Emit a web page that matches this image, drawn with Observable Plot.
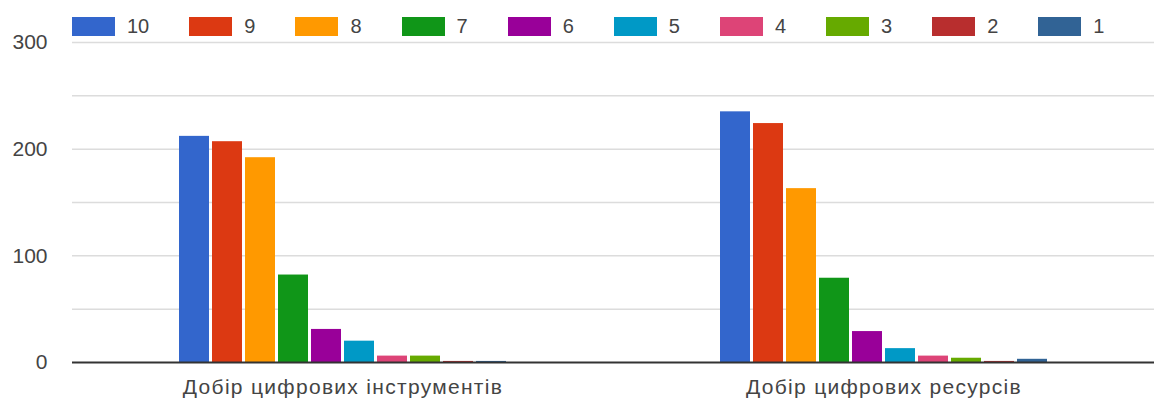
<!DOCTYPE html>
<html>
<head>
<meta charset="utf-8">
<script src="https://cdn.jsdelivr.net/npm/d3@7"></script>
<script src="https://cdn.jsdelivr.net/npm/@observablehq/plot@0.6"></script>
<style>
  html, body { margin: 0; padding: 0; background: #fff; }
  #wrap { position: relative; width: 1159px; height: 400px; font-family: "Liberation Sans", Arial, sans-serif; }
  #legend { position: absolute; top: 17px; left: 72px; display: flex; align-items: center; }
  .item { display: flex; align-items: center; margin-right: 40px; }
  .sw { width: 43px; height: 19px; }
  .lab { margin-left: 12px; font-size: 20px; color: #444; line-height: 19px; }
  #chart { position: absolute; top: 0; left: 0; }
  .fxlab text { letter-spacing: 1.3px; }
</style>
</head>
<body>
<div id="wrap">
  <div id="chart"></div>
  <div id="legend"></div>
</div>
<script>
const categories = ["Добір цифрових інструментів", "Добір цифрових ресурсів"];
const ratings = ["10", "9", "8", "7", "6", "5", "4", "3", "2", "1"];
const colors = ["#3366cc", "#dc3912", "#ff9900", "#109618", "#990099", "#0099c6", "#dd4477", "#66aa00", "#b82e2e", "#316395"];
const valuesInstruments = [212, 207, 192, 82, 31, 20, 6, 6, 1, 1];
const valuesResources = [235, 224, 163, 79, 29, 13, 6, 4, 1, 3];
const yTicks = [0, 100, 200, 300];
const gridTicks = [50, 100, 150, 200, 250, 300];

const seriesByCategory = [valuesInstruments, valuesResources];
const data = [];
categories.forEach((c, ci) => {
  ratings.forEach((r, ri) => {
    data.push({category: c, rating: r, value: seriesByCategory[ci][ri]});
  });
});

const chart = Plot.plot({
  width: 1159,
  height: 400,
  marginTop: 42,
  marginBottom: 38,
  marginLeft: 72,
  marginRight: 5,
  style: {fontFamily: '"Liberation Sans", Arial, sans-serif', color: "#444", background: "#fff"},
  fx: {domain: categories, padding: 0, label: null},
  x: {domain: ratings, paddingInner: 0.08, paddingOuter: 3.0, axis: null},
  y: {domain: [0, 300], label: null},
  color: {domain: ratings, range: colors},
  marks: [
    Plot.gridY(gridTicks, {stroke: "#dcdcdc", strokeOpacity: 1, strokeWidth: 1.5}),
    Plot.barY(data, {fx: "category", x: "rating", y: "value", fill: "rating"}),
    Plot.ruleY([0], {stroke: "#333", strokeWidth: 2}),
    Plot.axisY(yTicks, {tickSize: 0, tickPadding: 25, fontSize: 21, label: null}),
    Plot.axisFx({anchor: "bottom", tickSize: 0, tickPadding: 17, fontSize: 21, label: null, className: "fxlab"})
  ]
});
document.getElementById("chart").appendChild(chart);

const legend = document.getElementById("legend");
ratings.forEach((r, i) => {
  const item = document.createElement("div");
  item.className = "item";
  const sw = document.createElement("div");
  sw.className = "sw";
  sw.style.background = colors[i];
  const lab = document.createElement("span");
  lab.className = "lab";
  lab.textContent = r;
  item.appendChild(sw);
  item.appendChild(lab);
  legend.appendChild(item);
});
</script>
</body>
</html>
